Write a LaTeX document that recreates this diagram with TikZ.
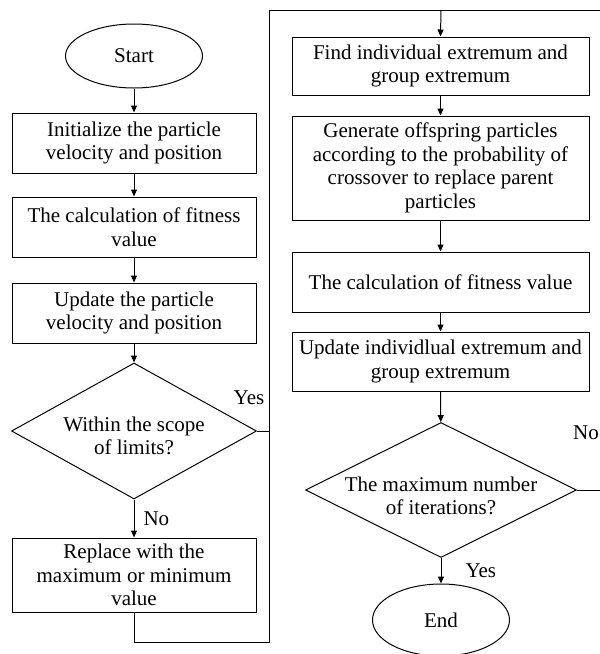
\documentclass[tikz,border=0pt]{standalone}
\usepackage{fontspec}
\setmainfont{Liberation Serif}
\usetikzlibrary{shapes.geometric,arrows.meta}
\begin{document}
\begin{tikzpicture}[x=1pt,y=-1pt,
  font=\fontsize{21}{23.5}\selectfont,
  line width=1pt,
  box/.style={draw, rectangle, align=center, inner sep=2pt, minimum width=244pt},
  wide/.style={minimum width=297pt},
  term/.style={draw, ellipse, inner sep=0pt, minimum width=137pt},
  dia/.style={draw, diamond, inner sep=0pt},
  lbl/.style={inner sep=0pt},
  arr/.style={-{Triangle[length=7pt,width=6pt]}}]
\path[use as bounding box, clip] (0,0) rectangle (600,654);

% left column
\node[term, minimum height=64pt] (start) at (134,56) {Start};
\node[box, minimum height=60pt] (b1) at (134,143) {Initialize the particle\\velocity and position};
\node[box, minimum height=60pt] (b2) at (134,227) {The calculation of fitness\\value};
\node[box, minimum height=60pt] (b3) at (134,313) {Update the particle\\velocity and position};
\node[dia, minimum width=245pt, minimum height=136pt,
      label={[align=center, yshift=-5pt]center:Within the scope\\of limits?}] (d1) at (134,431) {};
\node[box, minimum height=74pt] (b4) at (134,575) {Replace with the\\maximum or minimum\\value};

% right column
\node[box, wide, minimum height=58pt] (find) at (440.5,66) {Find individual extremum and\\group extremum};
\node[box, wide, minimum height=104pt] (gen) at (440.5,168) {Generate offspring particles\\according to the probability of\\crossover to replace parent\\particles};
\node[box, wide, minimum height=60pt] (calc) at (440.5,282) {The calculation of fitness value};
\node[box, wide, minimum height=59pt] (upd) at (440.5,361.5) {Update individlual extremum and\\group extremum};
\node[dia, minimum width=271pt, minimum height=135pt,
      label={[align=center, yshift=-6pt]center:The maximum number\\of iterations?}] (d2) at (441,490) {};
\node[term, minimum height=72pt] (end) at (441,620) {End};

% coordinates of the loops
\coordinate (c1) at (134,642);
\coordinate (c2) at (269,642);
\coordinate (c3) at (269,10);
\coordinate (c4) at (441,10);
\coordinate (c5) at (606,490);
\coordinate (c6) at (606,10);

% left connectors
\draw[arr] (start) -- (b1);
\draw[arr] (b1) -- (b2);
\draw[arr] (b2) -- (b3);
\draw[arr] (b3) -- (d1);
\draw[arr] (d1) -- node[lbl, anchor=west, xshift=9pt] (no1) {No} (b4);
\draw (d1.east) -- (d1.east -| c2);
\node[lbl] (yes1) at (249,398) {Yes};
\draw (b4.south) -- (c1) -- (c2) -- (c3) -- (c4);
\draw[arr] (c4) -- (find.north);

% right connectors
\draw[arr] (find) -- (gen);
\draw[arr] (gen) -- (calc);
\draw[arr] (calc) -- (upd);
\draw[arr] (upd) -- (d2);
\draw[arr] (d2) -- node[lbl, anchor=west, xshift=24pt] (yes2) {Yes} (end);
\draw (d2.east) -- (c5) -- (c6) -- (c4);
\node[lbl] (no2) at (586,433) {No};
\end{tikzpicture}
\end{document}
